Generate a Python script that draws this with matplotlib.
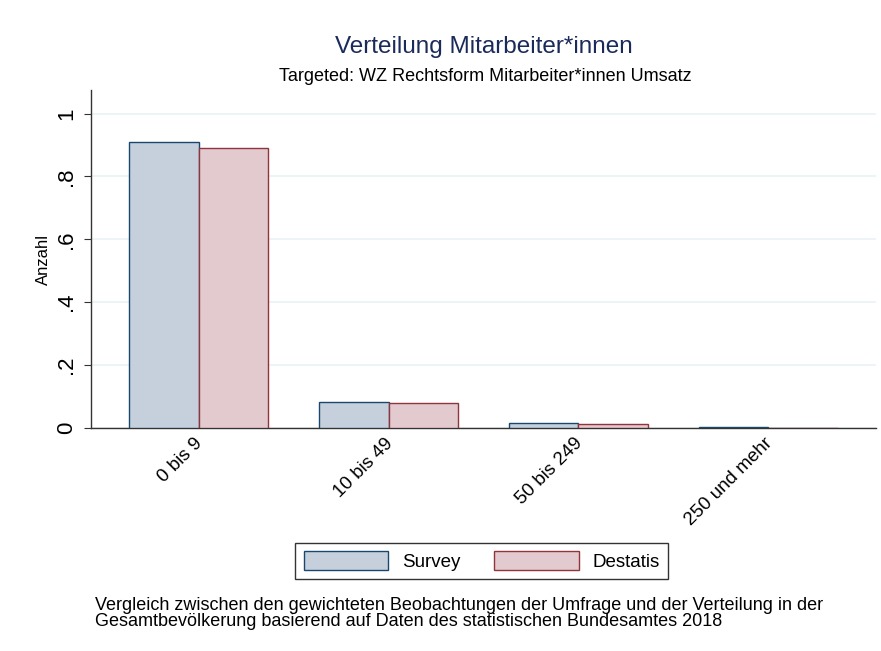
import numpy as np
import matplotlib.pyplot as plt
import matplotlib.transforms as mtransforms

plt.rcParams['font.family'] = ['Liberation Sans', 'DejaVu Sans']

# data
categories = ["0 bis 9", "10 bis 49", "50 bis 249", "250 und mehr"]
survey = [0.911, 0.083, 0.016, 0.003]
destatis = [0.889, 0.081, 0.014, 0.001]
yticks = [0, 0.2, 0.4, 0.6, 0.8, 1.0]
ytick_labels = ["0", ".2", ".4", ".6", ".8", "1"]

fig = plt.figure(figsize=(8.81, 6.51), dpi=100)
ax = fig.add_axes([0.1033, 0.3425, 0.8910, 0.5193])

x = np.arange(len(categories))
w = 0.368
ax.bar(x - w / 2, survey, width=w, color="#c6d0dc", edgecolor="#1a476f", linewidth=1.0, label="Survey", zorder=3)
ax.bar(x + w / 2, destatis, width=w, color="#e3cacf", edgecolor="#90353b", linewidth=1.0, label="Destatis", zorder=3)

ax.set_xlim(-0.566, 3.566)
ax.set_ylim(0, 1.075)
ax.set_yticks(yticks)
ax.set_yticklabels(ytick_labels, rotation=90, va="center", fontsize=16)
ax.yaxis.grid(True, color="#eaf2f3", linewidth=1.2, zorder=0)
ax.set_xticks(x)
ax.set_xticklabels(categories, rotation=45, ha="right", rotation_mode="anchor", fontsize=13.5)
ax.tick_params(axis="x", length=0, pad=5)
ax.tick_params(axis="y", length=5, color="#333333", pad=5)
ax.set_ylabel("Anzahl", fontsize=12, labelpad=4)

shift = mtransforms.ScaledTranslation(-0.045, 0, fig.dpi_scale_trans)
for lab in ax.get_xticklabels():
    lab.set_transform(lab.get_transform() + shift)

for s in ["top", "right"]:
    ax.spines[s].set_visible(False)
for s in ["left", "bottom"]:
    ax.spines[s].set_color("#333333")
    ax.spines[s].set_linewidth(1.0)

fig.text(0.549, 0.928, "Verteilung Mitarbeiter*innen", ha="center", va="center", fontsize=17.5, color="#1a2a5a")
fig.text(0.551, 0.883, "Targeted: WZ Rechtsform Mitarbeiter*innen Umsatz", ha="center", va="center", fontsize=13)

leg = fig.legend(loc="center", bbox_to_anchor=(0.547, 0.1382), ncol=2, fontsize=13.5,
                 frameon=True, fancybox=False, edgecolor="#000000",
                 handlelength=4.5, handleheight=1.15, columnspacing=1.8, handletextpad=0.75,
                 borderpad=0.45, borderaxespad=0)
leg.get_frame().set_linewidth(1.0)

fig.text(0.108, 0.058, "Vergleich zwischen den gewichteten Beobachtungen der Umfrage und der Verteilung in der\nGesamtbevölkerung basierend auf Daten des statistischen Bundesamtes 2018",
         ha="left", va="center", fontsize=13, linespacing=0.9)

fig.savefig("out.png", dpi=100, facecolor="white")
